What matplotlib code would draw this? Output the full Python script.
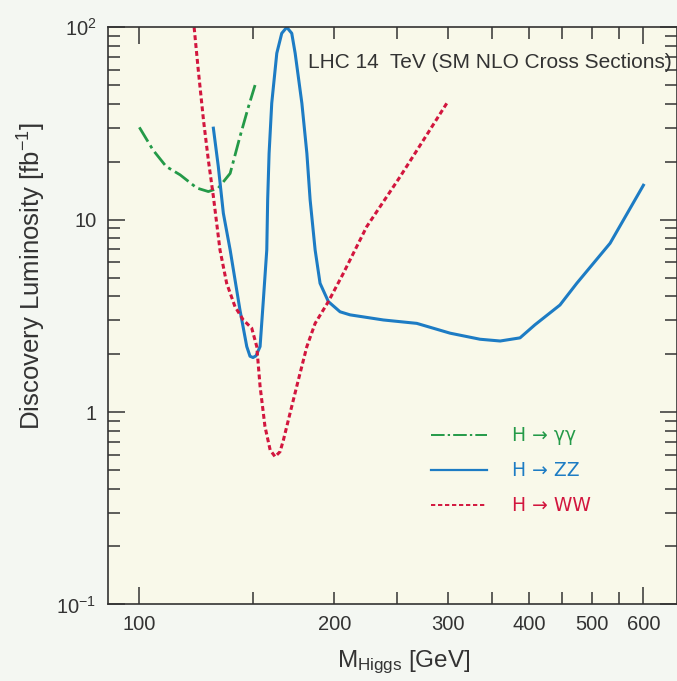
import matplotlib
matplotlib.use('Agg')
import matplotlib.pyplot as plt
from matplotlib.lines import Line2D
from matplotlib.ticker import FixedLocator, FixedFormatter, NullFormatter

# H -> gamma gamma
gg_mass = [100, 105, 110, 115.6, 122.7, 127.8, 132.4, 138.1, 143.0, 147.4, 150.9]
gg_lumi = [30.2, 23.0, 18.9, 17.1, 14.6, 14.0, 14.6, 17.4, 27.0, 38.7, 50.1]

# H -> ZZ
zz_mass = [130.1, 132.4, 134.8, 138.1, 143.0, 146.5, 148.2, 149.8, 151.4, 153.6, 155.4,
           157.3, 157.8, 158.6, 160.1, 163.0, 165.9, 168.9, 171.9, 174.0, 178.2, 181.4,
           183.5, 186.8, 190.1, 195.8, 204.1, 211.5, 238.1, 268.1, 301.8, 335.7, 360.6,
           387, 408, 446, 473.5, 533, 600]
zz_lumi = [29.9, 18.9, 10.8, 6.96, 3.39, 2.19, 1.95, 1.92, 1.96, 2.19, 3.82,
           6.96, 12.7, 22.1, 40.3, 73.3, 93.1, 100, 93.1, 73.3, 40.3, 22.1,
           12.7, 6.96, 4.67, 3.75, 3.32, 3.20, 3.01, 2.89, 2.57, 2.39, 2.34,
           2.43, 2.84, 3.60, 4.67, 7.54, 15.1]

# H -> WW
ww_mass = [121.5, 123.3, 125.6, 127.8, 130.1, 133.2, 136.4, 140.5, 144.7, 149.1, 151.8,
           153.6, 156.3, 159.2, 162.0, 164.9, 166.9, 171.9, 176.0, 181.4, 186.8, 195.8,
           206.5, 224.4, 252.6, 277.8, 298.3]
ww_lumi = [100, 60.0, 33.0, 20.4, 13.2, 6.96, 4.67, 3.53, 3.01, 2.73, 2.19,
           1.36, 0.84, 0.635, 0.586, 0.622, 0.716, 1.07, 1.47, 2.19, 2.89, 3.75,
           5.26, 9.2, 16.7, 27.6, 40.3]

x_major = [100, 600]
x_minor = [150, 200, 250, 300, 350, 400, 450, 500, 550]
x_minor_labels = ['', '200', '', '300', '', '400', '', '500', '']
y_ticks = [0.1, 1, 10, 100]
y_labels = ['$10^{-1}$', '1', '10', '$10^{2}$']

GREEN = '#249a48'
BLUE = '#1d7cc4'
RED = '#d2163e'
TEXT = '#333333'

plt.rcParams['font.family'] = ['Liberation Sans', 'DejaVu Sans']
plt.rcParams['mathtext.fontset'] = 'custom'
plt.rcParams['mathtext.rm'] = 'Liberation Sans'
plt.rcParams['mathtext.it'] = 'Liberation Sans:italic'
plt.rcParams['mathtext.bf'] = 'Liberation Sans:bold'

fig = plt.figure(figsize=(6.77, 6.81), dpi=100, facecolor='#f4f7f2')
ax = fig.add_axes([0.1588, 0.1125, 0.8405, 0.8474], facecolor='#f9f9ea')

ax.plot(gg_mass, gg_lumi, color=GREEN, lw=2.0, dashes=(6, 1.6, 1.2, 1.6))
ax.plot(zz_mass, zz_lumi, color=BLUE, lw=2.2, solid_joinstyle='round')
ax.plot(ww_mass, ww_lumi, color=RED, lw=2.2, dashes=(1.6, 1.0))

ax.set_xscale('log')
ax.set_yscale('log')
ax.set_xlim(89.3, 675)
ax.set_ylim(0.1, 100)

ax.xaxis.set_major_locator(FixedLocator(x_major))
ax.xaxis.set_major_formatter(FixedFormatter(['100', '600']))
ax.xaxis.set_minor_locator(FixedLocator(x_minor))
ax.xaxis.set_minor_formatter(FixedFormatter(x_minor_labels))
ax.yaxis.set_major_locator(FixedLocator(y_ticks))
ax.yaxis.set_major_formatter(FixedFormatter(y_labels))
ax.yaxis.set_minor_formatter(NullFormatter())

ax.tick_params(which='both', direction='in', top=True, right=True, colors=TEXT,
               labelsize=14.5, width=1.1)
ax.tick_params(axis='x', which='both', pad=8)
ax.tick_params(axis='y', which='both', pad=8)
ax.tick_params(which='major', length=12.5)
ax.tick_params(which='minor', length=8.5)
for s in ax.spines.values():
    s.set_color(TEXT)
    s.set_linewidth(1.2)

ax.set_xlabel('M$_{\\rm Higgs}$ [GeV]', fontsize=17.5, color=TEXT)
ax.set_ylabel('Discovery Luminosity [fb$^{-1}$]', fontsize=18.5, color=TEXT)
ax.xaxis.set_label_coords(0.52, -0.076)
ax.yaxis.set_label_coords(-0.105, 0.569)

ax.text(0.992, 0.9387, 'LHC 14  TeV (SM NLO Cross Sections)', transform=ax.transAxes,
        ha='right', va='center', fontsize=15, color=TEXT)

handles = [Line2D([], [], color=GREEN, lw=1.4, dashes=(7, 1.6, 1.2, 1.6)),
           Line2D([], [], color=BLUE, lw=1.6),
           Line2D([], [], color=RED, lw=1.4, dashes=(2.2, 1.4))]
labels = ['H \u2192 \u03b3\u03b3', 'H \u2192 ZZ', 'H \u2192 WW']
ax.legend(handles, labels, loc='center left', bbox_to_anchor=(0.5685, 0.2317),
          frameon=False, labelcolor='linecolor',
          prop={'family': 'DejaVu Sans', 'size': 13.5},
          handlelength=3.0, handletextpad=1.3, labelspacing=0.85,
          borderpad=0, borderaxespad=0)

fig.savefig('out.png', dpi=100, facecolor=fig.get_facecolor())
